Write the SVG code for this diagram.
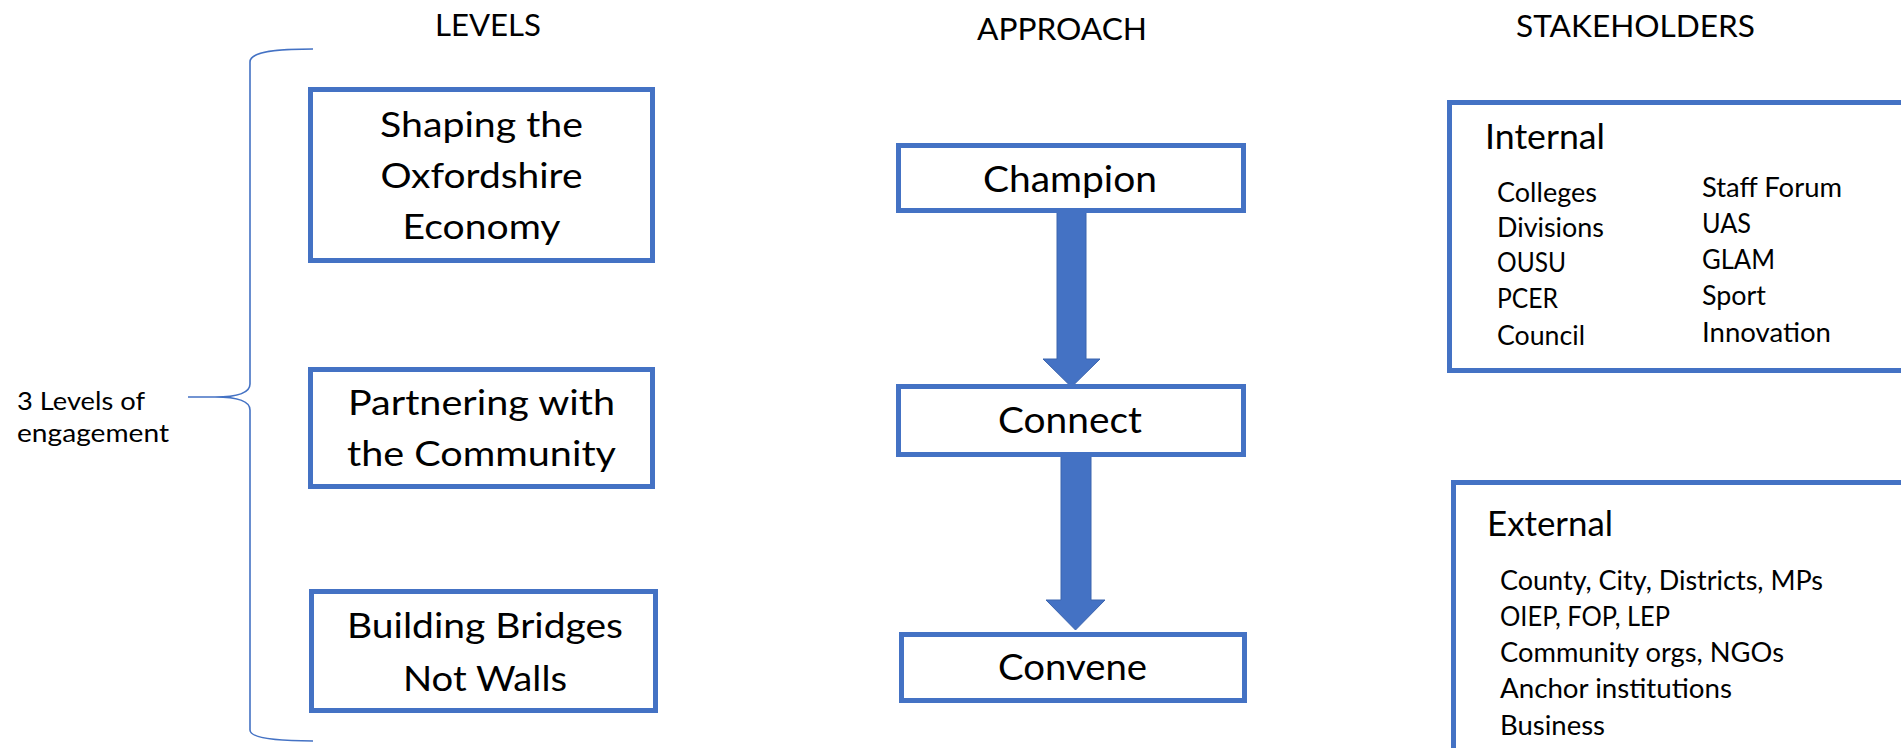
<svg xmlns="http://www.w3.org/2000/svg" width="1901" height="748" viewBox="0 0 1901 748">
<style>
  text { font-family: Lato, "Open Sans", "Liberation Sans", sans-serif; fill: #000; }
  .hdr { font-size: 30px; }
  .lvl { font-size: 35px; text-anchor: middle; }
  .app { font-size: 36px; text-anchor: middle; }
  .ttl { font-size: 34px; }
  .itm { font-size: 27px; }
  .lbl { font-size: 25px; }
  .box { fill: #fff; stroke: #4472C4; stroke-width: 5; }
  .arrow { fill: #4472C4; stroke: #3B64AE; stroke-width: 1; }
  .brace { fill: none; stroke: #4472C4; stroke-width: 1.6; }
</style>
<rect width="1901" height="748" fill="#fff"/>

<g id="headers">
  <text class="hdr" x="435" y="36" textLength="106" lengthAdjust="spacingAndGlyphs">LEVELS</text>
  <text class="hdr" x="977" y="40" textLength="170" lengthAdjust="spacingAndGlyphs">APPROACH</text>
  <text class="hdr" x="1516" y="37" textLength="239" lengthAdjust="spacingAndGlyphs">STAKEHOLDERS</text>
</g>

<g id="brace-label">
  <path class="brace" d="M313,49 C280,49 250,51 250,62 L250,384 C250,392 240,397 215,397 L188,397 M215,397 C240,397 250,402 250,410 L250,730 C250,739 280,741 313,741"/>
  <text class="lbl" x="17" y="410" textLength="128" lengthAdjust="spacingAndGlyphs">3 Levels of</text>
  <text class="lbl" x="17" y="442" textLength="152" lengthAdjust="spacingAndGlyphs">engagement</text>
</g>

<g id="connectors">
  <polygon class="arrow" points="1057,211 1086,211 1086,359 1100,359 1071.5,387 1043,359 1057,359"/>
  <polygon class="arrow" points="1061,455 1091,455 1091,600 1105,600 1075.5,630 1046,600 1061,600"/>
</g>

<g id="level-shaping">
  <rect class="box" x="310.5" y="89.5" width="342" height="171"/>
  <text class="lvl" x="481.5" y="137" textLength="203" lengthAdjust="spacingAndGlyphs">Shaping the</text>
  <text class="lvl" x="481.5" y="188" textLength="202" lengthAdjust="spacingAndGlyphs">Oxfordshire</text>
  <text class="lvl" x="481.5" y="239" textLength="158" lengthAdjust="spacingAndGlyphs">Economy</text>
</g>

<g id="level-partnering">
  <rect class="box" x="310.5" y="369.5" width="342" height="117"/>
  <text class="lvl" x="481.5" y="415" textLength="267" lengthAdjust="spacingAndGlyphs">Partnering with</text>
  <text class="lvl" x="481.5" y="466" textLength="269" lengthAdjust="spacingAndGlyphs">the Community</text>
</g>

<g id="level-bridges">
  <rect class="box" x="311.5" y="591.5" width="344" height="119"/>
  <text class="lvl" x="485" y="638" textLength="276" lengthAdjust="spacingAndGlyphs">Building Bridges</text>
  <text class="lvl" x="485" y="691" textLength="164" lengthAdjust="spacingAndGlyphs">Not Walls</text>
</g>

<g id="approach-champion">
  <rect class="box" x="898.5" y="145.5" width="345" height="65"/>
  <text class="app" x="1070" y="192" textLength="174" lengthAdjust="spacingAndGlyphs">Champion</text>
</g>

<g id="approach-connect">
  <rect class="box" x="898.5" y="386.5" width="345" height="68"/>
  <text class="app" x="1070" y="433" textLength="144" lengthAdjust="spacingAndGlyphs">Connect</text>
</g>

<g id="approach-convene">
  <rect class="box" x="901.5" y="634.5" width="343" height="66"/>
  <text class="app" x="1072.5" y="680" textLength="149" lengthAdjust="spacingAndGlyphs">Convene</text>
</g>

<g id="stakeholders-internal">
  <rect class="box" x="1449.5" y="102.5" width="520" height="268"/>
  <text class="ttl" x="1485" y="149" textLength="120" lengthAdjust="spacingAndGlyphs">Internal</text>
  <text class="itm" x="1497" y="202" textLength="100" lengthAdjust="spacingAndGlyphs">Colleges</text>
  <text class="itm" x="1497" y="237" textLength="107" lengthAdjust="spacingAndGlyphs">Divisions</text>
  <text class="itm" x="1497" y="272" textLength="69" lengthAdjust="spacingAndGlyphs">OUSU</text>
  <text class="itm" x="1497" y="308" textLength="61" lengthAdjust="spacingAndGlyphs">PCER</text>
  <text class="itm" x="1497" y="345" textLength="88" lengthAdjust="spacingAndGlyphs">Council</text>
  <text class="itm" x="1702" y="197" textLength="140" lengthAdjust="spacingAndGlyphs">Staff Forum</text>
  <text class="itm" x="1702" y="233" textLength="49" lengthAdjust="spacingAndGlyphs">UAS</text>
  <text class="itm" x="1702" y="269" textLength="73" lengthAdjust="spacingAndGlyphs">GLAM</text>
  <text class="itm" x="1702" y="305" textLength="64" lengthAdjust="spacingAndGlyphs">Sport</text>
  <text class="itm" x="1702" y="342" textLength="129" lengthAdjust="spacingAndGlyphs">Innovation</text>
</g>

<g id="stakeholders-external">
  <rect class="box" x="1453.5" y="482.5" width="520" height="300"/>
  <text class="ttl" x="1487" y="536" textLength="126" lengthAdjust="spacingAndGlyphs">External</text>
  <text class="itm" x="1500" y="590" textLength="323" lengthAdjust="spacingAndGlyphs">County, City, Districts, MPs</text>
  <text class="itm" x="1500" y="626" textLength="170" lengthAdjust="spacingAndGlyphs">OIEP, FOP, LEP</text>
  <text class="itm" x="1500" y="662" textLength="284" lengthAdjust="spacingAndGlyphs">Community orgs, NGOs</text>
  <text class="itm" x="1500" y="698" textLength="232" lengthAdjust="spacingAndGlyphs">Anchor institutions</text>
  <text class="itm" x="1500" y="735" textLength="105" lengthAdjust="spacingAndGlyphs">Business</text>
</g>
</svg>
